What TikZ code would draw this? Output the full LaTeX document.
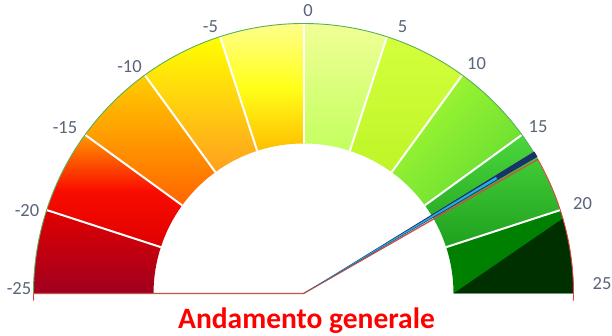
\documentclass[tikz,border=0pt]{standalone}
\usepackage{fontspec}
\setmainfont{Carlito}
\usetikzlibrary{calc}
\definecolor{lblc}{RGB}{90,100,122}
\definecolor{grnline}{RGB}{90,175,90}
\definecolor{redline}{RGB}{225,70,70}
\definecolor{baseln}{RGB}{196,84,70}
\definecolor{navy}{RGB}{25,50,105}
\definecolor{ncyan}{RGB}{40,170,230}
\definecolor{darkg}{RGB}{0,48,0}
\definecolor{midg}{RGB}{0,128,0}
\definecolor{sAt}{RGB}{224,0,0}\definecolor{sAb}{RGB}{160,0,32}
\definecolor{sBt}{RGB}{255,150,0}\definecolor{sBm}{RGB}{250,12,0}\definecolor{sBb}{RGB}{222,0,0}
\definecolor{sCt}{RGB}{255,205,0}\definecolor{sCb}{RGB}{255,100,0}
\definecolor{sDt}{RGB}{255,255,0}\definecolor{sDb}{RGB}{255,160,30}
\definecolor{sEt}{RGB}{255,255,140}\definecolor{sEm}{RGB}{255,255,25}\definecolor{sEb}{RGB}{255,190,0}
\definecolor{sFt}{RGB}{240,255,150}\definecolor{sFb}{RGB}{195,255,95}
\definecolor{sGt}{RGB}{212,255,60}\definecolor{sGb}{RGB}{190,245,40}
\definecolor{sHt}{RGB}{165,248,50}\definecolor{sHb}{RGB}{100,220,50}
\definecolor{sIt}{RGB}{75,215,60}\definecolor{sIb}{RGB}{30,160,30}
\def\ro{270}
\def\ri{150}
\tikzset{
  seg/.style n args={2}{insert path={($(c)+(#1:\ro)$) arc[start angle=#1,end angle=#2,radius=\ro] -- ($(c)+(#2:\ri)$) arc[start angle=#2,end angle=#1,radius=\ri] -- cycle}},
  lbl/.style={text=lblc, font=\fontsize{18.5}{20}\selectfont, anchor=base, inner sep=0pt},
  sep/.style={white, line width=2pt}
}
\begin{document}
\begin{tikzpicture}[x=1pt,y=1pt]
\useasboundingbox (0,0) rectangle (612,336);
\fill[white] (0,0) rectangle (612,336);
\coordinate (c) at (303.5,42.5);
% segments
\shade[top color=sAt, bottom color=sAb, seg={180}{162}];
\shade[top color=sBt, bottom color=sBb, middle color=sBm, seg={162}{144}];
\shade[top color=sCt, bottom color=sCb, seg={144}{126}];
\shade[top color=sDt, bottom color=sDb, seg={126}{108}];
\shade[top color=sEt, bottom color=sEb, middle color=sEm, seg={108}{90}];
\shade[top color=sFt, bottom color=sFb, seg={90}{72}];
\shade[top color=sGt, bottom color=sGb, seg={72}{54}];
\shade[left color=sHt, right color=sHb, shading angle=45, seg={54}{36}];
\shade[top color=sIt, bottom color=sIb, seg={36}{18}];
\fill[midg, seg={18}{0}];
\begin{scope}
  \clip[seg={18}{0}];
  \fill[darkg] ($(c)+(0:\ri)$) -- ($(c)+(16.2:271)$) -- ++(20,0) |- ($(c)+(0:\ri)$) -- cycle;
\end{scope}
% separators
\foreach \a in {162,144,...,18} {
  \draw[sep] ($(c)+(\a:\ri)$) -- ($(c)+(\a:\ro)$);
}
% outlines
\draw[grnline, line width=0.9pt] ($(c)+(180:\ro)$) arc[start angle=180,end angle=29.8,radius=\ro];
\draw[redline, line width=0.9pt] ($(c)+(29.8:\ro)$) arc[start angle=29.8,end angle=-1.5,radius=\ro];
\draw[redline, line width=0.9pt] ($(c)+(181.5:\ro)$) arc[start angle=181.5,end angle=180,radius=\ro];
\draw[baseln, line width=1.4pt] ($(c)+(180:\ro)$) -- (c) -- ($(c)+(29.8:\ro)$);
% needle
\fill[navy] (c) -- ($(c)+(30.3:271)$) -- ($(c)+(31.6:271)$) -- cycle;
\fill[ncyan] ($(c)+(31:4)$) -- ($(c)+(30.55:225)$) -- ($(c)+(31.2:225)$) -- cycle;
% labels
\node[lbl] (m25) at (19,41) {-25};
\node[lbl] (m20) at (27,119) {-20};
\node[lbl] (m15) at (65,202) {-15};
\node[lbl] (m10) at (129.5,263) {-10};
\node[lbl] (m5) at (210.5,303.5) {-5};
\node[lbl] (z0) at (308,319) {0};
\node[lbl] (p5) at (402.5,303) {5};
\node[lbl] (p10) at (476.5,266) {10};
\node[lbl] (p15) at (538,203) {15};
\node[lbl] (p20) at (582.5,126) {20};
\node[lbl] (p25) at (602,46) {25};
% title
\node[text=red, font=\bfseries\fontsize{29.5}{31}\selectfont, anchor=base, inner sep=0pt] (title) at (306.5,7) {Andamento generale};
\end{tikzpicture}
\end{document}
